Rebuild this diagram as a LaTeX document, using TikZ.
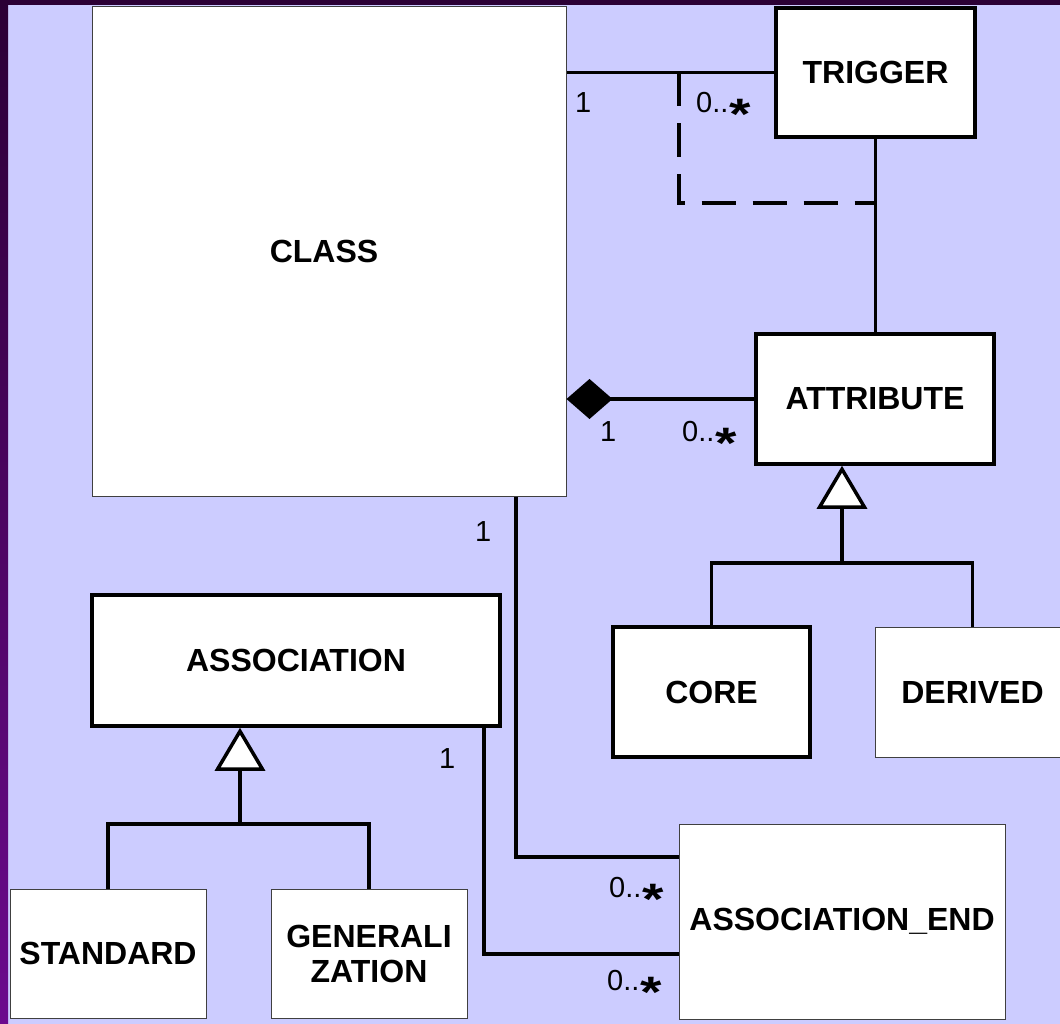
\documentclass[tikz,border=0pt]{standalone}
\usepackage{fontspec}
\setmainfont{Liberation Sans}
\usetikzlibrary{arrows.meta,positioning,calc}

\definecolor{lavender}{HTML}{CCCCFF}
\definecolor{plumdark}{HTML}{2B0035}
\definecolor{plumlight}{HTML}{6C0A8E}
\newcommand{\many}{0..\hspace{1pt}\raisebox{-17pt}{\fontsize{44}{44}\selectfont\bfseries\scalebox{1.25}[1]{*}}}

\begin{document}
\begin{tikzpicture}[x=1pt,y=-1pt,
    thickbox/.style={draw,line width=3.5pt,fill=white,inner sep=0pt,align=center,font=\fontsize{32}{35}\selectfont\bfseries},
    thinbox/.style={draw=black!75,line width=1pt,fill=white,inner sep=0pt,align=center,font=\fontsize{32}{35}\selectfont\bfseries},
    link/.style={line width=3.5pt},
    mult/.style={inner sep=0pt,anchor=base west,font=\fontsize{29}{32}\selectfont},
    gen/.style={{Triangle[fill=white,length=43pt,width=50pt]}-}]
    \useasboundingbox (0,0) rectangle (1060,1024);
    \clip (0,0) rectangle (1060,1024);
    \fill[lavender] (0,0) rectangle (1060,1024);
    \shade[top color=plumdark,bottom color=plumlight] (0,0) rectangle (8,1024);
    \fill[plumdark] (0,0) rectangle (1060,5);

    \node[thinbox,minimum width=474pt,minimum height=489pt] (class) at (329,251.5) {CLASS\hspace{10pt}};
    \node[thickbox,minimum width=199pt,minimum height=129pt] (trigger) at (875.5,72.5) {TRIGGER};
    \node[thickbox,minimum width=238pt,minimum height=130pt] (attribute) at (875,399) {ATTRIBUTE};
    \node[thickbox,minimum width=197pt,minimum height=130pt] (core) at (711.5,692) {CORE};
    \node[thinbox,minimum width=195pt,minimum height=130pt] (derived) at (972.5,692) {DERIVED};
    \node[thickbox,minimum width=408pt,minimum height=131pt] (association) at (296,660.5) {ASSOCIATION};
    \node[thinbox,minimum width=196pt,minimum height=129pt] (standard) at (108,953.5) {STANDARD};
    \node[thinbox,minimum width=196pt,minimum height=129pt] (generalization) at (369,953.5) {GENERALI\\ZATION};
    \node[thinbox,minimum width=326pt,minimum height=195pt] (assocend) at (842,921.5) {ASSOCIATION\_END};

    \coordinate (dashcorner) at (679,203);
    \coordinate (attrfork) at (842,563);
    \coordinate (assocfork) at (240,824);
    \coordinate (classbend) at (516,857);
    \coordinate (assocbend) at (484,954);

    \draw[link] (trigger.west) -- (trigger.west -| class.east);
    \draw[link,dash pattern=on 34pt off 17pt] (dashcorner |- trigger.west) -- (dashcorner) -- (dashcorner -| trigger.south);
    \draw[link] (trigger.south) -- (trigger.south |- attribute.north);
    \draw[link,{Diamond[length=46pt,width=40pt]}-] (attribute.west -| class.east) -- (attribute.west);

    \draw[link,gen] (attribute.south -| attrfork) -- (attrfork);
    \draw[link] (core.north) |- (attrfork) -| (derived.north);
    \draw[link,gen] (association.south -| assocfork) -- (assocfork);
    \draw[link] (standard.north) |- (assocfork) -| (generalization.north);

    \draw[link] (class.south -| classbend) -- (classbend) -- (classbend -| assocend.west);
    \draw[link] (association.south -| assocbend) -- (assocbend) -- (assocbend -| assocend.west);

    \node[mult] (m1) at (575,113) {1};
    \node[mult] (m2) at (696,113) {\many};
    \node[mult] (m3) at (600,441) {1};
    \node[mult] (m4) at (682,441) {\many};
    \node[mult] (m5) at (475,541) {1};
    \node[mult] (m6) at (439,768) {1};
    \node[mult] (m7) at (609,897) {\many};
    \node[mult] (m8) at (607,990) {\many};
\end{tikzpicture}
\end{document}
